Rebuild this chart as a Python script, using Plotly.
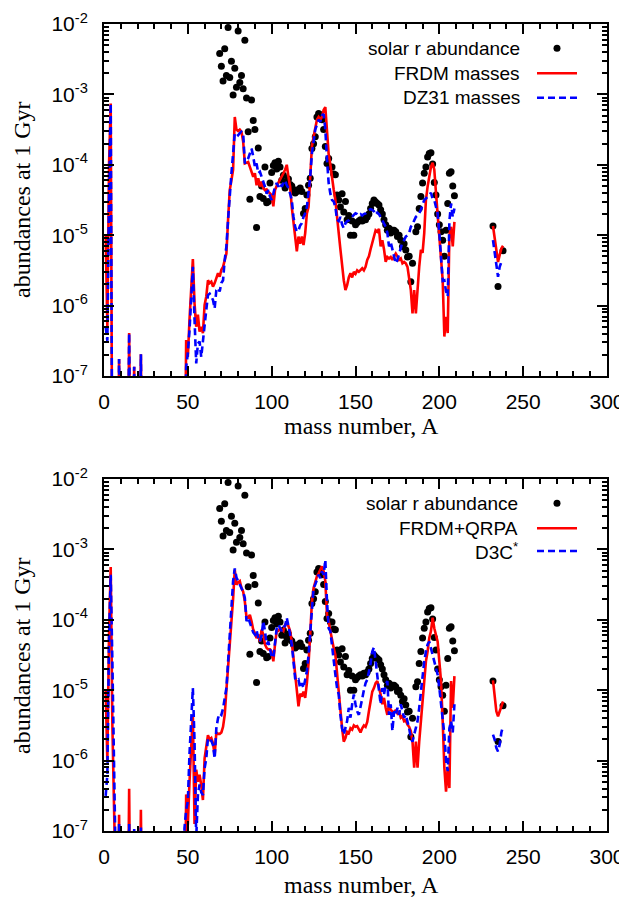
import plotly.graph_objects as go

# ---------------- data (log10 of abundance) ----------------
A_low = [1, 2, 3, 4, 5, 6, 7, 8, 9, 10, 14, 15, 16, 17, 18, 19, 21, 22, 23, 47]
A_mid = list(range(48, 210))
A_act = [232, 233, 234, 235, 236, 237, 238]

# top panel: FRDM masses
frdm_top_low = [-5.0, -6.3, -4.0, -3.13, -9, -9, -9, -9, -6.76, -9, -9, -6.39, -9, -9, -6.87, -9, -9, -6.69, -9, -9]
frdm_top_mid = [
    -9, -6.49, -6.73, -6.2, -5.73, -5.34, -5.97, -6.3, -6.13, -6.37,        # 48-57
    -6.3, -6.39, -5.99, -5.87, -5.64, -5.68, -5.66, -5.73, -5.68, -5.59,    # 58-67
    -5.54, -5.59, -5.49, -5.45, -5.35, -5.26, -4.78, -4.36, -4.22, -4.07,   # 68-77
    -3.32, -3.5, -3.52, -3.5, -3.53, -3.67, -3.98, -3.97, -3.96, -4.03,     # 78-87
    -4.1, -4.17, -4.12, -4.29, -4.19, -4.31, -4.24, -4.33, -4.36, -4.35,    # 88-97
    -4.38, -4.4, -4.43, -4.59, -4.36, -4.3, -4.26, -4.2, -4.17, -4.12,      # 98-107
    -4.07, -4.0, -4.17, -4.31, -4.6, -4.83, -4.97, -5.23, -5.02, -5.12,     # 108-117
    -5.02, -5.14, -4.97, -4.69, -4.6, -4.17, -3.74, -3.6, -3.46, -3.36,     # 118-127
    -3.32, -3.36, -3.32, -3.22, -3.18, -3.6, -3.85, -4.0, -4.2, -4.35,      # 128-137
    -4.5, -4.7, -4.97, -5.2, -5.45, -5.64, -5.78, -5.71, -5.6, -5.54,       # 138-147
    -5.6, -5.52, -5.55, -5.5, -5.52, -5.5, -5.47, -5.5, -5.45, -5.35,       # 148-157
    -5.3, -5.2, -5.11, -5.0, -4.93, -4.95, -4.91, -5.16, -5.07, -5.2,       # 158-167
    -5.38, -5.31, -5.33, -5.31, -5.35, -5.3, -5.26, -5.3, -5.35, -5.33,     # 168-177
    -5.4, -5.38, -5.4, -5.45, -5.59, -5.78, -6.11, -5.78, -6.11, -5.74,     # 178-187
    -5.45, -5.21, -5.25, -4.97, -4.5, -4.31, -4.17, -4.03, -3.97, -4.07,    # 188-197
    -4.4, -4.69, -4.97, -5.26, -5.64, -6.44, -6.16, -6.39, -5.0, -4.88,     # 198-207
    -5.16, -4.81,                                                           # 208-209
]
frdm_top_act = [-4.87, -5.05, -5.25, -5.38, -5.28, -5.19, -5.15]

# top panel: DZ31 masses
dz31_low = [-6.3, -6.5, -4.5, -3.13, -9, -9, -9, -9, -6.76, -9, -9, -6.39, -9, -9, -6.87, -9, -9, -6.69, -9, -9]
dz31_mid = [
    -9, -6.87, -6.68, -6.35, -5.83, -5.45, -6.2, -6.82, -6.54, -6.51,       # 48-57
    -6.73, -6.49, -6.2, -6.06, -5.85, -5.83, -5.87, -5.92, -6.04, -5.78,    # 58-67
    -5.75, -5.8, -5.68, -5.64, -5.35, -5.16, -4.78, -4.41, -4.12, -3.84,    # 68-77
    -3.55, -3.55, -3.58, -3.55, -3.53, -3.55, -3.98, -3.95, -3.91, -3.84,   # 78-87
    -3.77, -3.88, -4.03, -3.98, -4.12, -4.1, -4.17, -4.22, -4.31, -4.41,    # 88-97
    -4.36, -4.45, -4.5, -4.41, -4.31, -4.26, -4.31, -4.26, -4.31, -4.26,    # 98-107
    -4.22, -4.29, -4.33, -4.41, -4.5, -4.74, -4.88, -4.95, -4.93, -4.86,    # 108-117
    -4.83, -4.74, -4.69, -4.6, -4.41, -4.17, -3.84, -3.65, -3.5, -3.43,     # 118-127
    -3.36, -3.39, -3.3, -3.28, -3.5, -3.93, -4.26, -4.41, -4.5, -4.52,      # 128-137
    -4.6, -4.78, -4.8, -4.74, -4.85, -4.9, -4.83, -4.8, -4.79, -4.76,       # 138-147
    -4.74, -4.72, -4.69, -4.7, -4.72, -4.7, -4.72, -4.7, -4.69, -4.66,      # 148-157
    -4.64, -4.63, -4.64, -4.66, -4.71, -4.68, -4.7, -4.75, -4.79, -4.84,    # 158-167
    -4.88, -4.97, -5.16, -5.1, -5.2, -5.26, -5.4, -5.35, -5.26, -5.16,      # 168-177
    -5.1, -5.07, -5.02, -5.0, -4.97, -4.88, -4.85, -4.79, -4.74, -4.72,     # 178-187
    -4.69, -4.64, -4.55, -4.5, -4.48, -4.45, -4.42, -4.4, -4.48, -4.5,      # 188-197
    -4.6, -4.69, -4.97, -5.35, -5.65, -5.64, -5.8, -5.87, -4.8, -4.55,      # 198-207
    -4.74, -4.62,                                                           # 208-209
]
dz31_act = [-5.07, -5.25, -5.45, -5.59, -5.45, -5.38, -5.35]

# bottom panel: FRDM+QRPA
qrpa_low = [-5.0, -6.0, -4.2, -3.25, -5.5, -9, -9, -9, -6.77, -9, -9, -6.4, -9, -9, -9, -9, -9, -6.7, -9, -9]
qrpa_mid = [
    -9, -6.48, -6.91, -6.3, -5.8, -5.35, -6.9, -6.13, -6.3, -6.2,           # 48-57
    -6.35, -6.56, -5.97, -5.8, -5.64, -5.7, -5.68, -5.75, -5.92, -5.6,      # 58-67
    -5.62, -5.62, -5.6, -5.52, -5.35, -5.0, -4.7, -4.36, -4.0, -3.7,        # 68-77
    -3.29, -3.5, -3.47, -3.45, -3.55, -3.6, -3.74, -3.97, -3.97, -3.93,     # 78-87
    -4.02, -4.14, -4.19, -4.26, -4.21, -4.31, -4.14, -4.21, -4.35, -4.4,    # 88-97
    -4.42, -4.42, -4.45, -4.59, -4.35, -4.16, -4.16, -4.12, -4.14, -4.16,   # 98-107
    -4.07, -4.05, -4.09, -4.16, -4.31, -4.54, -4.78, -5.0, -5.23, -5.05,    # 108-117
    -5.09, -5.02, -5.11, -4.9, -4.62, -4.2, -3.75, -3.55, -3.45, -3.38,     # 118-127
    -3.34, -3.29, -3.24, -3.31, -3.45, -3.93, -4.02, -4.16, -4.31, -4.4,    # 128-137
    -4.5, -4.78, -5.02, -5.25, -5.54, -5.73, -5.68, -5.59, -5.61, -5.54,    # 138-147
    -5.56, -5.5, -5.52, -5.51, -5.55, -5.6, -5.54, -5.5, -5.52, -5.45,      # 148-157
    -5.3, -5.16, -5.02, -4.97, -4.9, -4.87, -4.95, -5.06, -5.2, -5.11,      # 158-167
    -5.25, -5.35, -5.2, -5.28, -5.3, -5.32, -5.28, -5.33, -5.3, -5.39,      # 168-177
    -5.37, -5.44, -5.43, -5.49, -5.52, -5.58, -5.73, -6.1, -5.73, -6.1,     # 178-187
    -5.73, -5.44, -5.25, -4.97, -4.59, -4.45, -4.26, -4.16, -3.97, -4.12,   # 188-197
    -4.21, -4.31, -4.59, -4.87, -5.44, -6.1, -6.44, -6.1, -6.39, -4.87,     # 198-207
    -5.25, -4.8,                                                            # 208-209
]
qrpa_act = [-4.86, -5.1, -5.3, -5.37, -5.3, -5.23, -5.16]

# bottom panel: D3C*
d3c_low = [-6.5, -6.2, -4.3, -3.36, -4.6, -5.6, -6.9, -9, -6.9, -9, -9, -6.9, -9, -9, -6.95, -9, -9, -6.95, -9, -9]
d3c_mid = [
    -6.96, -6.7, -6.58, -5.9, -5.4, -4.97, -5.73, -7.1, -6.49, -6.34,       # 48-57
    -6.45, -6.49, -6.11, -5.97, -5.68, -5.7, -5.72, -5.78, -5.97, -5.54,    # 58-67
    -5.4, -5.33, -5.35, -5.26, -5.1, -4.97, -4.6, -4.22, -3.88, -3.45,      # 68-77
    -3.27, -3.4, -3.45, -3.5, -3.55, -3.6, -3.69, -4.02, -3.97, -4.05,      # 78-87
    -4.12, -4.18, -4.21, -4.15, -4.26, -4.31, -4.22, -4.02, -4.16, -4.35,   # 88-97
    -4.31, -4.4, -4.52, -4.54, -4.35, -4.12, -4.07, -4.12, -4.16, -4.1,     # 98-107
    -4.09, -3.97, -4.07, -4.21, -4.35, -4.59, -4.83, -4.87, -4.85, -4.97,   # 108-117
    -4.9, -4.97, -4.87, -4.73, -4.5, -4.16, -3.74, -3.55, -3.5, -3.43,      # 118-127
    -3.36, -3.41, -3.31, -3.36, -3.15, -3.74, -4.12, -4.16, -4.4, -4.54,    # 128-137
    -4.78, -4.97, -5.06, -5.35, -5.54, -5.63, -5.54, -5.44, -5.25, -5.39,   # 138-147
    -5.2, -5.06, -5.2, -5.3, -5.35, -5.25, -5.12, -5.0, -4.9, -4.85,        # 148-157
    -4.75, -4.62, -4.45, -4.39, -4.59, -4.78, -4.97, -5.2, -4.97, -5.06,    # 158-167
    -4.92, -4.87, -5.35, -5.2, -5.58, -5.3, -5.35, -5.25, -5.35, -5.2,      # 168-177
    -5.3, -5.39, -5.35, -5.44, -5.54, -5.68, -5.73, -5.63, -5.54, -5.44,    # 178-187
    -5.25, -5.02, -4.78, -4.59, -4.45, -4.35, -4.31, -4.4, -4.5, -4.59,     # 188-197
    -4.68, -4.78, -4.97, -5.2, -5.45, -5.63, -6.0, -6.15, -5.54, -5.44,     # 198-207
    -5.6, -5.2,                                                             # 208-209
]
d3c_act = [-5.63, -5.7, -5.82, -5.87, -5.77, -5.6, -5.51]

# solar r-process abundances
A_solar = [69, 70, 71, 72, 73, 74, 75, 76, 77, 78, 79, 80, 81, 82, 83, 84, 85, 86, 87, 88,
           89, 90, 91, 92, 93, 94, 95, 96, 97, 98, 99, 100, 101, 102, 103, 104, 105, 106, 107, 108,
           109, 110, 111, 112, 113, 114, 115, 116, 117, 118, 119, 120, 121, 122, 123, 124, 125, 126, 127, 128,
           129, 130, 131, 132, 133, 134, 135, 136, 137, 138, 139, 140, 141, 142, 143, 144, 145, 146, 147, 148,
           149, 150, 151, 152, 153, 154, 155, 156, 157, 158, 159, 160, 161, 162, 163, 164, 165, 166, 167, 168,
           169, 170, 171, 172, 173, 174, 175, 176, 177, 178, 179, 180, 181, 182, 183, 184, 186, 187, 188, 189,
           190, 191, 192, 193, 194, 195, 196, 197, 198, 199, 200, 201, 202, 203, 204, 205, 206, 207, 208, 209,
           232, 235, 238]
solar = [-2.42, -2.60, -2.81, -2.35, -2.73, -2.05, -2.76, -2.53, -3.01, -2.63, -2.90, -2.10, -2.83, -2.73, -2.92, -2.23, -3.05, -3.53, -4.49, -3.08,
         -3.37, -3.50, -4.89, -3.76, -4.45, -4.30, -4.48, -4.03, -4.54, -4.52, -4.26, -4.11, -4.01, -3.97, -4.06, -3.95, -4.03, -4.22, -4.15, -4.33,
         -4.25, -4.20, -4.28, -4.30, -4.35, -4.40, -4.38, -4.35, -4.33, -4.38, -4.69, -4.62, -4.43, -4.29, -4.19, -3.77, -3.70, -3.60, -3.32, -3.27,
         -3.29, -3.36, -3.50, -3.74, -3.98, -3.91, -4.03, -4.03, -4.13, -4.14, -4.43, -4.50, -4.60, -4.41, -4.67, -4.52, -4.78, -4.72, -5.00, -4.80,
         -5.00, -4.85, -4.82, -4.80, -4.78, -4.80, -4.76, -4.78, -4.74, -4.70, -4.62, -4.55, -4.50, -4.53, -4.55, -4.57, -4.64, -4.70, -4.78, -4.85,
         -4.93, -4.90, -4.97, -4.93, -4.93, -4.95, -5.02, -5.00, -5.07, -5.16, -5.12, -5.21, -5.31, -5.30, -5.66, -5.40, -4.95, -4.88, -4.62, -4.45,
         -4.26, -4.12, -4.03, -3.89, -3.84, -3.83, -3.99, -4.25, -4.43, -4.70, -4.85, -4.95, -5.07, -5.30, -4.93, -4.55, -4.12, -4.10, -4.30, -4.44,
         -4.87, -5.73, -5.22]

y_ticks = [1e-7, 1e-6, 1e-5, 1e-4, 1e-3, 1e-2]
y_ticktext = ["10<sup>-7</sup>", "10<sup>-6</sup>", "10<sup>-5</sup>", "10<sup>-4</sup>",
              "10<sup>-3</sup>", "10<sup>-2</sup>"]
x_ticks = [0, 50, 100, 150, 200, 250, 300]

# ---------------- figure ----------------
def series(low, mid, act):
    xs = A_low + A_mid + [None] + A_act
    ys = [10 ** v for v in low + mid] + [None] + [10 ** v for v in act]
    return xs, ys

RED = "#ff0000"
BLUE = "#0000ff"
fig = go.Figure()

panels = [
    ("x", "y", (frdm_top_low, frdm_top_mid, frdm_top_act), (dz31_low, dz31_mid, dz31_act)),
    ("x2", "y2", (qrpa_low, qrpa_mid, qrpa_act), (d3c_low, d3c_mid, d3c_act)),
]
for xa, ya, red, blue in panels:
    fig.add_trace(go.Scatter(x=A_solar, y=[10 ** v for v in solar], mode="markers",
                             marker=dict(color="black", size=7), xaxis=xa, yaxis=ya,
                             showlegend=False))
    xs, ys = series(*red)
    fig.add_trace(go.Scatter(x=xs, y=ys, mode="lines", line=dict(color=RED, width=2.6),
                             xaxis=xa, yaxis=ya, showlegend=False, connectgaps=False))
    xs, ys = series(*blue)
    fig.add_trace(go.Scatter(x=xs, y=ys, mode="lines",
                             line=dict(color=BLUE, width=2.6, dash="7px,4px"),
                             xaxis=xa, yaxis=ya, showlegend=False, connectgaps=False))

tickfont = dict(family="Liberation Sans, Arial, sans-serif", size=21, color="black")
minor_y = []
for e in range(-7, -2):
    for m in range(2, 10):
        minor_y.append(m * 10 ** e)

xcommon = dict(range=[0, 300], tickmode="array", tickvals=x_ticks, ticks="inside",
               ticklen=10, tickwidth=1.8, tickcolor="black", showline=True, linewidth=2,
               linecolor="black", mirror="ticks", showgrid=False, zeroline=False,
               tickfont=tickfont, ticklabelstandoff=6, automargin=False,
               minor=dict(ticks="inside", ticklen=5, tickwidth=1.5, tickcolor="black",
                          tickmode="linear", tick0=0, dtick=10, showgrid=False))
ycommon = dict(type="log", range=[-7, -2], tickmode="array", tickvals=y_ticks,
               ticktext=y_ticktext, ticks="inside", ticklen=10, tickwidth=1.8,
               tickcolor="black", showline=True, linewidth=2, linecolor="black",
               mirror="ticks", showgrid=False, zeroline=False, tickfont=tickfont,
               ticklabelstandoff=10, automargin=False,
               minor=dict(ticks="inside", ticklen=5, tickwidth=1.5, tickcolor="black",
                          tickmode="array", tickvals=minor_y, showgrid=False))

top_dom = [(831 - 376) / 807, 1.0]
bot_dom = [0.0, (831 - 479) / 807]

# the page body adds an 8 px offset; the figure is sized so the plot areas land at
# x 104-607 and y 24-376 / 479-831 of the 627x898 window
OFF = 8
fig.update_layout(
    width=627 - OFF, height=898 - OFF,
    margin=dict(l=104 - OFF, r=20, t=24 - OFF, b=67, autoexpand=False),
    paper_bgcolor="white", plot_bgcolor="white",
    xaxis=dict(xcommon, anchor="y", domain=[0, 1]),
    yaxis=dict(ycommon, anchor="x", domain=top_dom),
    xaxis2=dict(xcommon, anchor="y2", domain=[0, 1]),
    yaxis2=dict(ycommon, anchor="x2", domain=bot_dom),
    showlegend=False,
)

def px(xp):
    return (xp - 104) / 503

def py(yp):
    return (831 - yp) / 807

serif = dict(family="Liberation Serif, Times New Roman, serif", size=24, color="black")
sans = dict(family="Liberation Sans, Arial, sans-serif", size=19, color="black")
ann = []
for ytitle, xtitle in [(200, 426), (656, 885)]:
    ann.append(dict(text="mass number, A", xref="paper", yref="paper", x=px(361), y=py(xtitle),
                    xanchor="center", yanchor="middle", showarrow=False, font=serif))
    ann.append(dict(text="abundances at 1 Gyr", xref="paper", yref="paper", x=px(22), y=py(ytitle),
                    xanchor="center", yanchor="middle", textangle=-90, showarrow=False, font=serif))

legends = [
    (521.5, [48.3, 73.3, 97.7], ["solar r abundance", "FRDM masses", "DZ31 masses"]),
    (520.0, [503.3, 528.3, 551.0], ["solar r abundance", "FRDM+QRPA", "D3C<sup>*</sup>"]),
]
shapes = []
for xr, rows, labels in legends:
    for yy, lab in zip(rows, labels):
        ann.append(dict(text=lab, xref="paper", yref="paper", x=px(xr), y=py(yy),
                        xanchor="right", yanchor="middle", showarrow=False, font=sans))
    shapes.append(dict(type="circle", xref="paper", yref="paper",
                       x0=px(557 - 3.5), x1=px(557 + 3.5), y0=py(rows[0] + 3.5), y1=py(rows[0] - 3.5),
                       fillcolor="black", line=dict(color="black", width=0)))
    shapes.append(dict(type="line", xref="paper", yref="paper", x0=px(537), x1=px(577),
                       y0=py(rows[1]), y1=py(rows[1]), line=dict(color=RED, width=2.6)))
    shapes.append(dict(type="line", xref="paper", yref="paper", x0=px(537), x1=px(577),
                       y0=py(rows[2]), y1=py(rows[2]),
                       line=dict(color=BLUE, width=2.6, dash="7px,4px")))

fig.update_layout(annotations=ann, shapes=shapes)
fig.write_html("out.html")
